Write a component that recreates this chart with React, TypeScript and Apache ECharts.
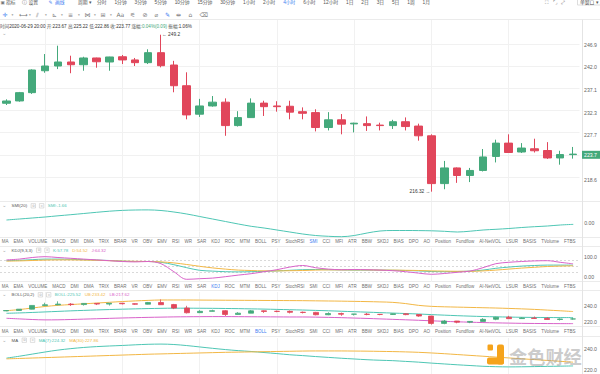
import React, { useEffect, useRef } from "react";
import * as echarts from "echarts";

// ---------------- data ----------------
const openP = [234.27, 234.76, 236.52, 241.24, 242.27, 243.15, 242.55, 244.03, 243.15, 244.3, 243.6, 243.0, 245.2, 242.49, 238.0, 231.97, 233.7, 234.5, 229.6, 231.26, 234.3, 233.7, 233.64, 232.5, 232.3, 229.2, 230.8, 229.95, 230.0, 229.7, 229.6, 230.4, 229.5, 227.5, 217.9, 221.0, 219.5, 220.5, 223.3, 226.0, 224.2, 224.85, 224.5, 223.0, 223.67];
const closeP = [234.75, 236.52, 241.4, 242.27, 243.15, 242.55, 244.03, 243.2, 244.25, 243.6, 243.0, 245.2, 242.34, 238.0, 231.82, 233.7, 234.5, 229.6, 231.26, 234.3, 233.55, 233.55, 232.4, 232.16, 229.2, 230.8, 229.9, 230.1, 229.6, 229.6, 230.4, 229.4, 227.5, 217.9, 221.0, 219.5, 220.5, 223.2, 226.0, 224.1, 225.0, 224.45, 223.0, 223.68, 223.77];
const lowP = [233.9, 234.6, 236.25, 240.8, 241.6, 240.7, 241.24, 241.9, 241.24, 242.7, 242.27, 242.7, 241.98, 236.6, 230.9, 231.4, 233.55, 227.5, 229.4, 231.2, 231.6, 232.5, 230.9, 230.9, 228.4, 228.6, 227.8, 228.2, 228.5, 228.6, 228.9, 228.6, 226.5, 216.32, 216.8, 218.05, 218.2, 220.3, 222.1, 224.0, 224.0, 224.1, 222.8, 221.65, 222.86];
const highP = [235.1, 236.67, 241.55, 244.9, 246.75, 244.53, 244.3, 244.1, 244.3, 244.69, 244.03, 245.95, 249.2, 243.4, 240.9, 235.2, 235.8, 235.3, 232.6, 235.3, 234.8, 234.7, 234.8, 233.4, 233.0, 232.4, 232.0, 230.2, 231.5, 230.2, 230.8, 231.3, 230.0, 227.8, 222.4, 221.1, 221.0, 224.8, 226.7, 227.8, 226.0, 226.9, 226.2, 224.45, 225.22];

const smiVals = [2.7, 3.7, 4.7, 5.7, 6.9, 8.0, 9.2, 10.4, 11.5, 12.3, 12.7, 12.8, 12.2, 10.7, 8.7, 6.2, 3.7, 1.2, -1.3, -3.6, -5.3, -7.3, -9.3, -11.3, -12.8, -13.6, -14.0, -12.8, -10.3, -8.3, -7.8, -7.8, -7.9, -8.1, -8.6, -9.3, -8.5, -7.3, -6.6, -5.8, -4.8, -4.0, -3.3, -2.3, -1.66];

const kVals = [80, 82, 85, 88, 88, 87, 85, 83, 81, 78, 76, 76, 72, 60, 45, 32, 28, 25, 24, 25, 27, 29, 32, 35, 36, 35, 34, 33, 33, 33, 32, 31, 29, 26, 25, 26, 28, 33, 42, 48, 53, 56, 58, 58, 57.78];
const dVals = [78, 79, 81, 83, 84, 84, 83, 82, 80, 78, 77, 76, 74, 69, 61, 52, 44, 38, 33, 31, 29, 29, 30, 31, 33, 34, 34, 34, 34, 33, 33, 32, 31, 29, 28, 27, 27, 29, 33, 38, 43, 47, 51, 53, 54.52];
const jVals = [84, 88, 96, 100, 96, 92, 88, 84, 80, 76, 74, 76, 65, 25, -13, -10, -7, 0, 8, 15, 25, 35, 48, 56, 45, 38, 35, 36, 35, 33, 30, 25, 18, 12, 16, 22, 28, 45, 65, 72, 76, 79, 80, 72, 64.32];

const bollMid = [231.1, 231.6, 232.2, 232.9, 233.6, 234.3, 234.9, 235.5, 236.0, 236.5, 236.9, 237.3, 237.6, 237.8, 237.8, 237.7, 237.6, 237.4, 237.2, 236.9, 236.6, 236.2, 235.8, 235.4, 234.9, 234.4, 233.8, 233.2, 232.6, 232.0, 231.4, 230.8, 230.2, 229.4, 228.7, 228.0, 227.4, 226.9, 226.5, 226.2, 225.9, 225.7, 225.6, 225.5, 225.52];
const bollUp = [234.5, 236.0, 238.0, 240.0, 241.5, 242.5, 243.5, 244.5, 245.5, 246.5, 247.3, 248.0, 248.5, 248.5, 248.5, 248.4, 248.3, 248.2, 248.1, 248.0, 247.9, 247.8, 247.7, 247.6, 247.4, 247.2, 247.0, 246.7, 246.4, 246.0, 245.4, 243.8, 241.5, 240.2, 239.6, 239.2, 238.8, 238.4, 238.0, 237.5, 236.9, 236.2, 235.3, 234.4, 233.42];
const bollLow = [224.6, 223.8, 223.0, 222.5, 222.6, 223.0, 223.5, 224.0, 224.5, 225.0, 225.4, 225.8, 226.1, 226.4, 226.6, 226.7, 226.8, 226.8, 226.7, 226.6, 226.5, 226.4, 226.3, 226.3, 226.1, 225.8, 225.4, 224.9, 224.4, 223.8, 223.2, 222.6, 222.0, 221.3, 220.6, 220.0, 219.5, 219.0, 218.6, 218.3, 218.0, 217.8, 217.7, 217.6, 217.62];

const ma7 = [231.7, 233.5, 235.5, 237.5, 239.3, 240.7, 241.8, 242.6, 243.2, 243.7, 244.3, 244.8, 245.0, 244.6, 243.6, 242.3, 241.0, 239.8, 238.8, 238.0, 237.0, 236.0, 234.9, 234.1, 233.2, 232.4, 231.6, 230.9, 230.2, 229.7, 229.3, 228.6, 227.9, 227.0, 226.2, 225.4, 224.7, 224.0, 223.6, 223.4, 223.5, 223.7, 223.9, 224.1, 224.32];
const ma30 = [231.0, 231.4, 231.8, 232.2, 232.6, 233.0, 233.4, 233.8, 234.2, 234.6, 235.0, 235.4, 235.7, 236.0, 236.3, 236.6, 236.9, 237.2, 237.4, 237.6, 237.8, 238.0, 238.2, 238.4, 238.5, 238.5, 238.5, 238.4, 238.3, 238.1, 237.9, 237.6, 237.2, 236.6, 235.9, 235.1, 234.3, 233.5, 232.7, 231.9, 231.1, 230.3, 229.5, 228.7, 227.86];

const priceGridTicks = [246.9, 242.0, 237.1, 232.3, 227.7, 223.1, 218.6];
const priceTickLabels = [246.9, 242.0, 237.1, 232.3, 227.7, 218.6];
const priceAxisRange = [214.51, 252.53];
const smiTicks = [0];
const kdjTicks = [0, 100];
const kdjLevels = [20, 50, 80];
const bollTicks = [220, 240];
const maTicks = [220, 240];
const vGridIdx = [3, 9, 15, 21, 27, 33, 39];

const tabNames = ["MA", "EMA", "VOLUME", "MACD", "DMI", "DMA", "TRIX", "BRAR", "VR", "OBV", "EMV", "RSI", "WR", "SAR", "KDJ", "ROC", "MTM", "BOLL", "PSY", "StochRSI", "SMI", "CCI", "MFI", "ATR", "BBW", "SKDJ", "BIAS", "DPO", "AO", "Position", "Fundflow", "AI-NetVOL", "LSUR", "BASIS", "TVolume", "FTBS"];
const periods = ["分时", "1分钟", "3分钟", "5分钟", "10分钟", "15分钟", "30分钟", "1小时", "2小时", "4小时", "6小时", "12小时", "1日", "2日", "3日", "5日", "1周", "1月"];
const activePeriod = "4小时";

const lastTime = Date.UTC(2020, 5, 29, 20, 0);
const pad2 = (n: number) => (n < 10 ? "0" + n : "" + n);
const categories = openP.map((_, i) => {
  const t = new Date(lastTime - (openP.length - 1 - i) * 4 * 3600 * 1000);
  return `${t.getUTCFullYear()}-${pad2(t.getUTCMonth() + 1)}-${pad2(t.getUTCDate())} ${pad2(t.getUTCHours())}:${pad2(t.getUTCMinutes())}`;
});

// ---------------- styles ----------------
const UP = "#44a97b";
const DOWN = "#e1465b";
const TEAL = "#4ec6b4";
const ORANGE = "#f2b745";
const PINK = "#d862c9";
const BLUE = "#3c7cf0";
const GRID = "#f1f1f1";
const SEP = "#ebebeb";
const FONT = '"Liberation Sans", Arial, "Noto Sans CJK SC", sans-serif';
const SYMFONT = '"DejaVu Sans", "Liberation Sans", sans-serif';

const GL = -7.5;
const GW = 587.2;

let measureCtx: CanvasRenderingContext2D | null = null;
function tw(s: string, size: number, family = FONT) {
  if (!measureCtx) measureCtx = document.createElement("canvas").getContext("2d");
  measureCtx!.font = `${size}px ${family}`;
  return measureCtx!.measureText(s).width;
}

function txt(x: number, y: number, text: string, fill: string, size = 4.4, extra: any = {}) {
  return {
    type: "text",
    x,
    y,
    silent: true,
    z: 10,
    style: { text, fill, fontSize: size, fontFamily: FONT, verticalAlign: "middle", align: "left", ...extra },
  };
}

function tabRow(y: number, active: string) {
  const size = 4.5;
  const widths = tabNames.map((n) => tw(n, size));
  const total = widths.reduce((a, b) => a + b, 0);
  const x0 = 1.7;
  const x1 = 575.5;
  const gap = (x1 - x0 - total) / (tabNames.length - 1);
  let x = x0;
  const els: any[] = [];
  tabNames.forEach((n, i) => {
    els.push(txt(x, y, n, n === active ? BLUE : "#707070", size));
    x += widths[i] + gap;
  });
  return els;
}

function panelLabel(y: number, name: string, vals: { t: string; c: string }[]) {
  const size = 4.4;
  const els: any[] = [];
  els.push(txt(2.2, y - 0.6, "⌄", "#9a9a9a", 5, { fontFamily: SYMFONT }));
  els.push(txt(11.5, y, name, "#555", size));
  let x = 11.5 + tw(name, size) + 4;
  for (let k = 0; k < 2; k++) {
    els.push({ type: "rect", silent: true, z: 10, shape: { x, y: y - 2.2, width: 4.4, height: 4.4 }, style: { fill: "#fff", stroke: "#c9c9c9", lineWidth: 0.6 } });
    els.push(txt(x + 0.9, y, k === 0 ? "⚙" : "×", "#b5b5b5", 3.4, { fontFamily: SYMFONT }));
    x += 8.3;
  }
  vals.forEach((v) => {
    els.push(txt(x, y, v.t, v.c, size));
    x += tw(v.t, size) + 4;
  });
  return els;
}

function buildGraphics() {
  const els: any[] = [];
  // separators
  const sepY = [19.5, 201.5, 237.5, 246.5, 281.5, 290.5, 326.5, 336.5];
  sepY.forEach((y) => els.push({ type: "line", silent: true, z: 1, shape: { x1: 0, y1: y, x2: 600, y2: y }, style: { stroke: SEP, lineWidth: 1 } }));
  els.push({ type: "line", silent: true, z: 1, shape: { x1: 582.5, y1: 19.5, x2: 582.5, y2: 374 }, style: { stroke: "#e4e4e4", lineWidth: 1 } });

  // top row
  const ty = 2;
  els.push(txt(0.5, ty, "▣", "#777", 4.6, { fontFamily: SYMFONT }));
  els.push(txt(6, ty, "指标", "#555", 4.8));
  els.push(txt(22, ty, "ⓘ", "#777", 4.8, { fontFamily: SYMFONT }));
  els.push(txt(28.5, ty, "设置", "#555", 4.8));
  els.push(txt(48.5, ty, "✎", BLUE, 4.8, { fontFamily: SYMFONT }));
  els.push(txt(55, ty, "画线", BLUE, 4.8));
  els.push(txt(78, ty, "周期 ▾", "#555", 4.8));
  {
    const size = 4.8;
    const widths = periods.map((p) => tw(p, size));
    const total = widths.reduce((a, b) => a + b, 0);
    const x0 = 97;
    const x1 = 430;
    const gap = (x1 - x0 - total) / (periods.length - 1);
    let x = x0;
    periods.forEach((p, i) => {
      els.push(txt(x, ty, p, p === activePeriod ? BLUE : "#555", size));
      x += widths[i] + gap;
    });
  }
  els.push(txt(545, ty, "⛶", "#777", 4.8, { fontFamily: SYMFONT }));
  els.push(txt(553, ty, "⌜⌟", "#777", 4.8, { fontFamily: SYMFONT }));
  els.push(txt(561, ty, "⤢", "#777", 4.8, { fontFamily: SYMFONT }));
  els.push({ type: "rect", silent: true, z: 10, shape: { x: 577.5, y: -3, width: 24, height: 8 }, style: { fill: "#fff", stroke: "#cfcfcf", lineWidth: 0.7 } });
  els.push(txt(580, ty, "单窗口 ▾", "#555", 4.8));

  // icon row
  const iy = 14.5;
  const icons: [string, number, string][] = [
    ["✛", 2.5, BLUE], ["▾", 11.5, "#999"], ["⟷", 19, "#777"], ["▾", 29, "#999"], ["⫽", 36, "#777"], ["▾", 45, "#999"],
    ["⊾", 52, "#777"], ["▾", 61, "#999"], ["≡", 68, "#777"], ["▾", 78, "#999"], ["⋈", 84.5, "#777"], ["▾", 94, "#999"],
    ["⊞", 100.5, "#777"], ["▾", 110, "#999"], ["Aa", 116.5, "#777"], ["⚟", 130, "#777"], ["⊘", 142.5, "#777"],
    ["⌀", 154.5, "#777"], ["✎", 165, BLUE], ["⇹", 176, "#777"], ["⌂", 188.5, "#777"], ["⌫", 199.5, "#777"],
  ];
  icons.forEach(([g, x, c]) => els.push(txt(x, iy, g, c, g === "▾" ? 3.6 : 6, { fontFamily: SYMFONT })));

  // info line
  const n = closeP.length - 1;
  const prev = closeP[n - 1];
  const chg = closeP[n] - prev;
  const chgPct = (chg / prev) * 100;
  const amp = ((highP[n] - lowP[n]) / prev) * 100;
  const infoText =
    `{g|时间}{d|${categories[n]}} {g|开:}{d|${openP[n].toFixed(2)}} {g|高:}{d|${highP[n].toFixed(2)}} ` +
    `{g|低:}{d|${lowP[n].toFixed(2)}} {g|收:}{d|${closeP[n].toFixed(2)}} {g|涨幅:}{u|${chgPct.toFixed(2)}%(${chg.toFixed(2)})} {g|振幅:}{d|${amp.toFixed(2)}%}`;
  els.push({
    type: "text",
    x: 0,
    y: 26,
    silent: true,
    z: 10,
    style: {
      text: infoText,
      fontSize: 4.6,
      fontFamily: FONT,
      verticalAlign: "middle",
      align: "left",
      fill: "#444",
      rich: {
        g: { fill: "#555", fontSize: 4.6, fontFamily: FONT },
        d: { fill: "#333", fontSize: 4.6, fontFamily: FONT },
        u: { fill: UP, fontSize: 4.6, fontFamily: FONT },
      },
    },
  });
  els.push(txt(2.2, 32.5, "⌄", "#9a9a9a", 5, { fontFamily: SYMFONT }));

  // panel labels
  const last = (a: number[]) => a[a.length - 1];
  els.push(...panelLabel(205.8, "SMI(20)", [{ t: `SMI:${last(smiVals).toFixed(2)}`, c: TEAL }]));
  els.push(...panelLabel(250.2, "KDJ(9,3,3)", [
    { t: `K:${last(kVals).toFixed(2)}`, c: TEAL },
    { t: `D:${last(dVals).toFixed(2)}`, c: ORANGE },
    { t: `J:${last(jVals).toFixed(2)}`, c: PINK },
  ]));
  els.push(...panelLabel(294.8, "BOLL(20,2)", [
    { t: `BOLL:${last(bollMid).toFixed(2)}`, c: TEAL },
    { t: `UB:${last(bollUp).toFixed(2)}`, c: ORANGE },
    { t: `LB:${last(bollLow).toFixed(2)}`, c: PINK },
  ]));
  els.push(...panelLabel(340.2, "MA", [
    { t: `MA(7):${last(ma7).toFixed(2)}`, c: TEAL },
    { t: `MA(30):${last(ma30).toFixed(2)}`, c: ORANGE },
  ]));

  // tab rows
  els.push(...tabRow(241.8, "SMI"));
  els.push(...tabRow(286.2, "KDJ"));
  els.push(...tabRow(331.7, "BOLL"));

  // watermark
  const WM = "#f5a31b";
  els.push({ type: "rect", silent: true, z: 20, shape: { x: 487.5, y: 344.5, width: 5.5, height: 6, r: 1.2 }, style: { fill: WM } });
  els.push({ type: "rect", silent: true, z: 20, shape: { x: 497, y: 344.5, width: 7, height: 20, r: 2 }, style: { fill: WM } });
  els.push({ type: "rect", silent: true, z: 20, shape: { x: 487, y: 357.5, width: 17, height: 7, r: 2 }, style: { fill: WM } });
  els.push({
    type: "text",
    x: 509,
    y: 355.5,
    silent: true,
    z: 20,
    style: {
      text: "金色财经",
      fill: "rgba(160,160,160,0.55)",
      fontSize: 18.2,
      fontWeight: "bold",
      fontFamily: '"Noto Sans CJK SC", sans-serif',
      verticalAlign: "middle",
      align: "left",
    },
  });
  return els;
}

function gridMark(extra: any[] = []) {
  return {
    silent: true,
    symbol: ["none", "none"],
    z: 1,
    label: { show: false },
    lineStyle: { color: GRID, width: 1, type: "solid" },
    data: [...vGridIdx.map((i) => ({ xAxis: i })), ...extra],
    animation: false,
  };
}

function valueAxis(gridIndex: number, min: number, max: number, ticks: number[], fmt: (v: number) => string) {
  return {
    type: "value",
    gridIndex,
    position: "right",
    min,
    max,
    scale: true,
    axisLine: { show: false },
    axisTick: { show: false },
    splitLine: { show: false },
    axisLabel: {
      show: true,
      customValues: ticks,
      formatter: fmt,
      fontSize: 5.2,
      color: "#666",
      fontFamily: FONT,
      margin: 4.5,
    },
  };
}

export default function App() {
  const ref = useRef<HTMLDivElement>(null);
  useEffect(() => {
    document.body.style.margin = "0";
    const chart = echarts.init(ref.current!, undefined, { renderer: "svg" });
    const ln = Math.log;
    const candleLn = openP.map((o, i) => [ln(o), ln(closeP[i]), ln(lowP[i]), ln(highP[i])]);
    const candleLin = openP.map((o, i) => [o, closeP[i], lowP[i], highP[i]]);
    let hiIdx = 0;
    let loIdx = 0;
    highP.forEach((h, i) => { if (h > highP[hiIdx]) hiIdx = i; });
    lowP.forEach((l, i) => { if (l < lowP[loIdx]) loIdx = i; });
    const lastClose = closeP[closeP.length - 1];
    const tagText = (Math.floor(lastClose * 10) / 10).toFixed(1);

    const grids = [
      { left: GL, width: GW, top: 20, height: 181 },
      { left: GL, width: GW, top: 202, height: 36 },
      { left: GL, width: GW, top: 248, height: 34 },
      { left: GL, width: GW, top: 292, height: 34 },
      { left: GL, width: GW, top: 338, height: 38 },
    ];
    const xAxes = grids.map((_, i) => ({
      type: "category",
      gridIndex: i,
      data: categories,
      boundaryGap: true,
      show: false,
    }));
    const candleStyle = { color: UP, color0: DOWN, borderColor: UP, borderColor0: DOWN, borderWidth: 1 };
    const lineS = (name: string, data: number[], color: string, idx: number, extra: any = {}) => ({
      type: "line",
      name,
      data,
      xAxisIndex: idx,
      yAxisIndex: idx,
      symbol: "none",
      smooth: 0.35,
      lineStyle: { color, width: 1 },
      itemStyle: { color },
      silent: true,
      z: 3,
      ...extra,
    });

    chart.setOption({
      animation: false,
      grid: grids,
      xAxis: xAxes,
      yAxis: [
        valueAxis(0, ln(priceAxisRange[0]), ln(priceAxisRange[1]), priceTickLabels.map(ln), (v) => Math.exp(v).toFixed(1)),
        valueAxis(1, -15.3, 20.7, smiTicks, (v) => v.toFixed(2)),
        valueAxis(2, -26.5, 143.5, kdjTicks, (v) => (v === 0 ? "0.00" : v.toFixed(1))),
        valueAxis(3, 214.51, 258.95, bollTicks, (v) => v.toFixed(1)),
        valueAxis(4, 216.68, 250.76, maTicks, (v) => v.toFixed(1)),
      ],
      series: [
        {
          type: "candlestick",
          name: "K线",
          data: candleLn,
          xAxisIndex: 0,
          yAxisIndex: 0,
          barWidth: 8,
          itemStyle: candleStyle,
          silent: true,
          z: 3,
          markLine: gridMark(priceGridTicks.map((v) => ({ yAxis: ln(v) }))),
          markPoint: {
            silent: true,
            animation: false,
            data: [
              {
                coord: [hiIdx, ln(highP[hiIdx])],
                symbol: "rect",
                symbolSize: [1, 1],
                itemStyle: { color: "rgba(0,0,0,0)" },
                label: { show: true, position: "right", distance: 0.5, formatter: `← ${highP[hiIdx].toFixed(1)}`, fontSize: 4.8, color: "#333", fontFamily: FONT },
              },
              {
                coord: [loIdx, ln(lowP[loIdx])],
                symbol: "rect",
                symbolSize: [1, 1],
                itemStyle: { color: "rgba(0,0,0,0)" },
                label: { show: true, position: "left", distance: 0.5, formatter: `${lowP[loIdx].toFixed(2)} →`, fontSize: 4.8, color: "#333", fontFamily: FONT },
              },
            ],
          },
        },
        {
          type: "line",
          name: "收盘",
          data: closeP.map(ln),
          xAxisIndex: 0,
          yAxisIndex: 0,
          symbol: "none",
          lineStyle: { color: "rgba(0,0,0,0)", width: 0 },
          silent: true,
          z: 4,
          markLine: {
            silent: true,
            symbol: ["none", "none"],
            z: 6,
            animation: false,
            lineStyle: { color: "rgba(0,0,0,0)", width: 0, type: "solid" },
            data: [{ yAxis: ln(lastClose) }],
            label: {
              show: true,
              position: "end",
              distance: 2.5,
              formatter: tagText,
              color: "#fff",
              backgroundColor: UP,
              padding: [1.6, 3, 1.2, 2],
              fontSize: 5.2,
              fontFamily: FONT,
            },
          },
        },
        lineS("SMI", smiVals, TEAL, 1, { markLine: gridMark() }),
        lineS("K", kVals, TEAL, 2, {
          markLine: {
            ...gridMark(),
            data: [
              ...vGridIdx.map((i) => ({ xAxis: i, lineStyle: { color: GRID, type: "solid" } })),
              ...kdjLevels.map((v) => ({ yAxis: v, lineStyle: { color: "#c8c8c8", type: [2, 2], width: 0.7 } })),
            ],
          },
        }),
        lineS("D", dVals, ORANGE, 2),
        lineS("J", jVals, PINK, 2),
        {
          type: "candlestick",
          name: "K线2",
          data: candleLin,
          xAxisIndex: 3,
          yAxisIndex: 3,
          barWidth: 5.5,
          itemStyle: { ...candleStyle, borderWidth: 0.8 },
          silent: true,
          z: 3,
          markLine: gridMark(),
        },
        lineS("BOLL", bollMid, TEAL, 3),
        lineS("UB", bollUp, ORANGE, 3),
        lineS("LB", bollLow, PINK, 3),
        lineS("MA7", ma7, TEAL, 4, { markLine: gridMark() }),
        lineS("MA30", ma30, ORANGE, 4),
      ],
      graphic: buildGraphics(),
    });
    return () => chart.dispose();
  }, []);
  return <div ref={ref} style={{ width: 600, height: 374, position: "absolute", left: 0, top: 0, background: "#fff" }} />;
}
